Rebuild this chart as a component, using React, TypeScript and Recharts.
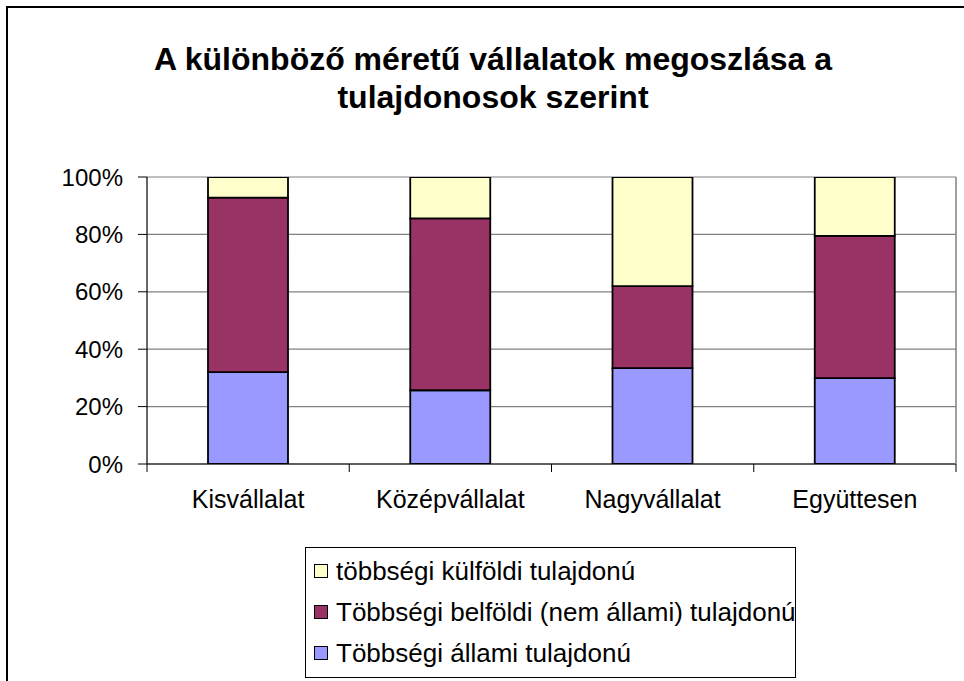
import React from 'react';
import {
  BarChart,
  Bar,
  XAxis,
  YAxis,
  CartesianGrid
} from 'recharts';

const categories = ['Kisvállalat', 'Középvállalat', 'Nagyvállalat', 'Együttesen'];
const allami = [32.0, 25.7, 33.4, 29.9];
const belfoldi = [60.8, 59.9, 28.6, 49.6];
const kulfoldi = [7.2, 14.4, 38.0, 20.5];
const yTicks = [0, 20, 40, 60, 80, 100];

const seriesInfo = [
  { key: 'allami', name: 'Többségi állami tulajdonú', color: '#9999FF' },
  { key: 'belfoldi', name: 'Többségi belföldi (nem állami) tulajdonú', color: '#993366' },
  { key: 'kulfoldi', name: 'többségi külföldi tulajdonú', color: '#FFFFCC' }
];

const data = categories.map((name, i) => ({
  name,
  allami: allami[i],
  belfoldi: belfoldi[i],
  kulfoldi: kulfoldi[i]
}));

const FONT = '"Liberation Sans", Arial, sans-serif';

const CategoryTick = (props: any) => {
  const { x, y, payload } = props;
  const half = payload && typeof payload.offset === 'number' && payload.offset > 0 ? payload.offset : 101;
  const isLast = payload.value === categories[categories.length - 1];
  return (
    <g>
      <line x1={x - half} x2={x - half} y1={y} y2={y + 8} stroke="#000" strokeWidth={1} />
      {isLast && <line x1={x + half} x2={x + half} y1={y} y2={y + 8} stroke="#000" strokeWidth={1} />}
      <text x={x} y={y + 44} textAnchor="middle" fontSize={25} fill="#000" fontFamily={FONT}>
        {payload.value}
      </text>
    </g>
  );
};

const App: React.FC = () => {
  return (
    <div
      style={{
        position: 'absolute',
        left: 0,
        top: 0,
        width: 964,
        height: 681,
        overflow: 'hidden',
        background: '#fff',
        fontFamily: FONT
      }}
    >
      <div
        style={{
          position: 'absolute',
          left: 6,
          top: 6,
          width: 1000,
          height: 720,
          border: '2px solid #000'
        }}
      />
      <div
        style={{
          position: 'absolute',
          left: 0,
          top: 40,
          width: 986,
          textAlign: 'center',
          fontSize: 32,
          fontWeight: 'bold',
          lineHeight: '38px',
          color: '#000'
        }}
      >
        A különböző méretű vállalatok megoszlása a
        <br />
        tulajdonosok szerint
      </div>
      <div style={{ position: 'absolute', left: 0, top: 0 }}>
        <BarChart
          width={964}
          height={681}
          data={data}
          margin={{ top: 177, right: 7, left: 0, bottom: 157 }}
          barSize={80}
        >
          <CartesianGrid vertical={false} stroke="#808080" strokeWidth={1.2} />
          <XAxis
            dataKey="name"
            height={60}
            tickSize={0}
            tickMargin={0}
            tickLine={false}
            axisLine={{ stroke: '#000', strokeWidth: 1.2 }}
            tick={<CategoryTick />}
            interval={0}
          />
          <YAxis
            width={147}
            domain={[0, 100]}
            ticks={yTicks}
            tickFormatter={(v: number) => `${v}%`}
            tickSize={9}
            tickMargin={15}
            tickLine={{ stroke: '#000' }}
            axisLine={{ stroke: '#000', strokeWidth: 1.2 }}
            tick={{ fill: '#000', fontSize: 24, fontFamily: FONT }}
            allowDataOverflow
          />
          <YAxis
            yAxisId="right"
            orientation="right"
            width={1}
            domain={[0, 100]}
            tick={false}
            tickLine={false}
            axisLine={{ stroke: '#808080', strokeWidth: 1.5 }}
          />
          {seriesInfo.map((s) => (
            <Bar
              key={s.key}
              dataKey={s.key}
              name={s.name}
              stackId="a"
              fill={s.color}
              stroke="#000"
              strokeWidth={1.8}
              isAnimationActive={false}
            />
          ))}
        </BarChart>
      </div>
      <div
        style={{
          position: 'absolute',
          left: 305,
          top: 547,
          width: 489,
          height: 129,
          border: '1px solid #000',
          background: '#fff'
        }}
      >
        {[...seriesInfo].reverse().map((s, i) => (
          <div
            key={s.key}
            style={{
              position: 'absolute',
              left: 8,
              top: 8 + i * 41,
              height: 30,
              display: 'flex',
              alignItems: 'center',
              whiteSpace: 'nowrap',
              fontSize: 26,
              color: '#000'
            }}
          >
            <span
              style={{
                display: 'inline-block',
                width: 12,
                height: 12,
                background: s.color,
                border: '1px solid #000',
                marginRight: 8
              }}
            />
            {s.name}
          </div>
        ))}
      </div>
    </div>
  );
};

export default App;
